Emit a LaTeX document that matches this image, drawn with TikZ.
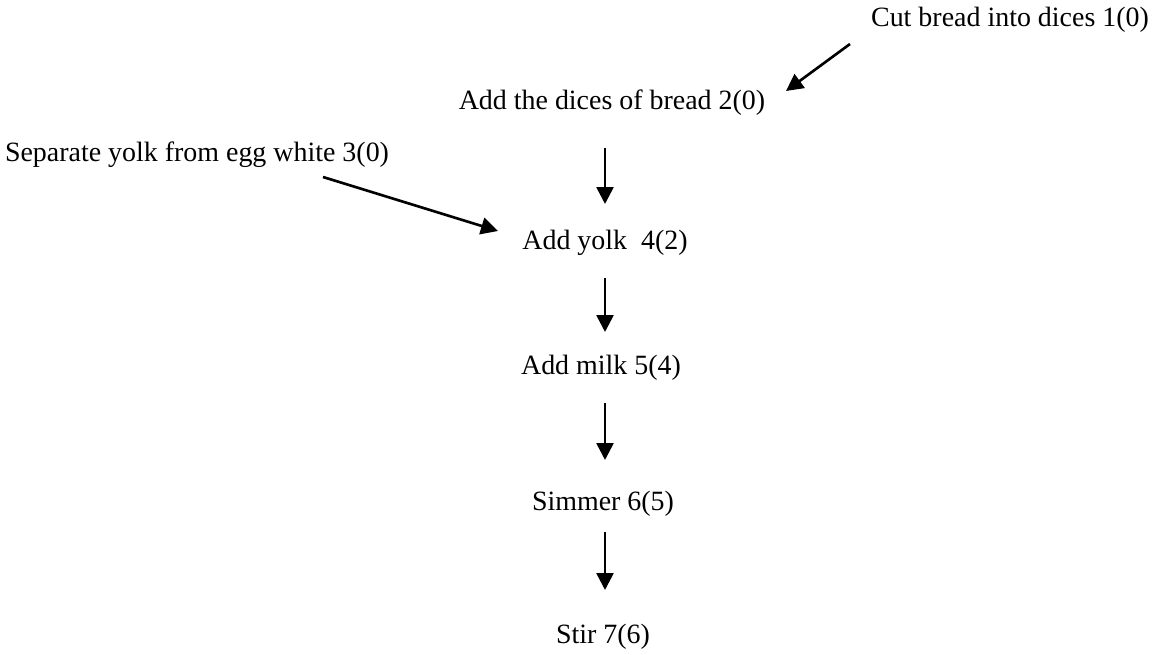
\documentclass[tikz,border=0pt]{standalone}
\usepackage{fontspec}
\setmainfont{Liberation Serif}
\usetikzlibrary{arrows.meta,calc}
\begin{document}
\begin{tikzpicture}[x=0.02cm,y=-0.02cm,
  lbl/.style={inner sep=0pt,font=\fontsize{15.9}{19}\selectfont},
  arr/.style={line width=1.5pt,-{Triangle[length=0.34cm,width=0.34cm]}}]
\useasboundingbox (0,0) rectangle (1159,655);
\node[lbl] (n1) at (1010,20) {Cut bread into dices 1(0)};
\node[lbl] (n2) at (612,103) {Add the dices of bread 2(0)};
\node[lbl] (n3) at (197,155) {Separate yolk from egg white 3(0)};
\node[lbl] (n4) at (605,243) {Add yolk\ \ 4(2)};
\node[lbl] (n5) at (601,368) {Add milk 5(4)};
\node[lbl] (n6) at (603,504) {Simmer 6(5)};
\node[lbl] (n7) at (603,637) {Stir 7(6)};
\coordinate (a1s) at (850,44);
\coordinate (a1e) at (786,91);
\coordinate (a3s) at (323,177);
\coordinate (a3e) at (498,231);
\draw[arr] (a1s) -- (a1e);
\draw[arr] (a3s) -- (a3e);
\draw[arr] ($(n2 -| n4)+(0,45)$) -- ($(n4)+(0,-39)$);
\draw[arr] ($(n4)+(0,35)$) -- ($(n5 -| n4)+(0,-36)$);
\draw[arr] ($(n5 -| n4)+(0,35)$) -- ($(n6 -| n4)+(0,-44)$);
\draw[arr] ($(n6 -| n4)+(0,28)$) -- ($(n7 -| n4)+(0,-47)$);
\end{tikzpicture}
\end{document}
